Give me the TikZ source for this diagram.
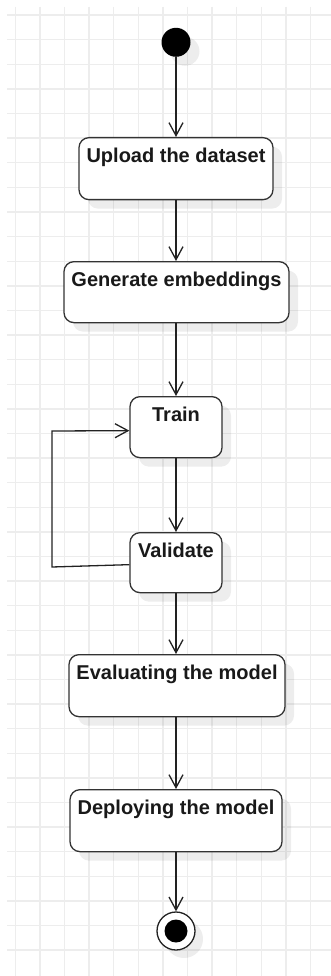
\documentclass[tikz,border=0pt]{standalone}
\usepackage{fontspec}
\setmainfont{Liberation Sans}
\usetikzlibrary{arrows.meta,shadows,calc}
\definecolor{gridc}{HTML}{EDEDED}
\definecolor{ink}{HTML}{222222}
\definecolor{boxline}{HTML}{333333}
\tikzset{
  box/.style={draw=boxline, line width=1.3pt, fill=white, rounded corners=10pt,
    inner sep=0pt, anchor=north,
    drop shadow={shadow xshift=9pt, shadow yshift=-9pt, fill=black, opacity=0.07}},
  lbl/.style={anchor=base, inner sep=0pt, text=black!90, font=\fontsize{20}{24}\selectfont\bfseries},
  arr/.style={draw=ink, line width=1.3pt, -{Straight Barb[length=13pt,width=14pt]}},
  startdot/.style={circle, fill=black, inner sep=0pt, minimum size=29pt,
    drop shadow={shadow xshift=9pt, shadow yshift=-9pt, fill=black, opacity=0.07}},
  endring/.style={circle, draw=ink, line width=1.3pt, fill=white, inner sep=0pt, minimum size=38pt,
    drop shadow={shadow xshift=8pt, shadow yshift=-8pt, fill=black, opacity=0.07}},
  enddot/.style={circle, fill=black, inner sep=0pt, minimum size=23pt}
}
\begin{document}
\begin{tikzpicture}[x=1pt,y=-1pt]
\useasboundingbox (0,0) rectangle (331,976);
\fill[white] (0,0) rectangle (331,976);
% grid
\foreach \i in {0,...,12} {\draw[gridc, line width=1.4pt] (15.3+24.6*\i,7) -- (15.3+24.6*\i,976);}
\foreach \j in {0,...,38} {\draw[gridc, line width=1.4pt] (7,15.2+24.6*\j) -- (331,15.2+24.6*\j);}
% start
\node[startdot] (st) at (176,42.3) {};
% boxes
\node[box, minimum width=194pt, minimum height=62pt] (up) at (176,137) {};
\node[lbl] (upt) at ($(up.north)+(0,25.5)$) {Upload the dataset};
\node[box, minimum width=225pt, minimum height=61pt] (ge) at (176.5,261) {};
\node[lbl] (get) at ($(ge.north)+(0,25.5)$) {Generate embeddings};
\node[box, minimum width=92pt, minimum height=61pt] (tr) at (176,396) {};
\node[lbl] (trt) at ($(tr.north)+(0,25)$) {Train};
\node[box, minimum width=92pt, minimum height=60pt] (va) at (176,532) {};
\node[lbl] (vat) at ($(va.north)+(0,25)$) {Validate};
\node[box, minimum width=216pt, minimum height=62pt] (ev) at (177,654) {};
\node[lbl] (evt) at ($(ev.north)+(0,25.5)$) {Evaluating the model};
\node[box, minimum width=212pt, minimum height=62pt] (de) at (176,789) {};
\node[lbl] (det) at ($(de.north)+(0,25.5)$) {Deploying the model};
% end
\node[endring] (en) at (176,931) {};
\node[enddot] (end) at (en.center) {};
% connectors
\draw[arr] (st.south) -- (up.north);
\draw[arr] (up.south) -- (ge.north -| up.south);
\draw[arr] (ge.south -| up.south) -- (tr.north);
\draw[arr] (tr.south) -- (va.north);
\draw[arr] (va.south) -- (ev.north -| va.south);
\draw[arr] (ev.south -| va.south) -- (de.north);
\draw[arr] (de.south) -- (en.north);
\coordinate (lp1) at (52,567);
\coordinate (lp2) at (52,431);
\draw[arr] ($(va.west)+(0,2)$) -- (lp1) -- (lp2) -- ($(tr.west)+(0,3.5)$);
\end{tikzpicture}
\end{document}
